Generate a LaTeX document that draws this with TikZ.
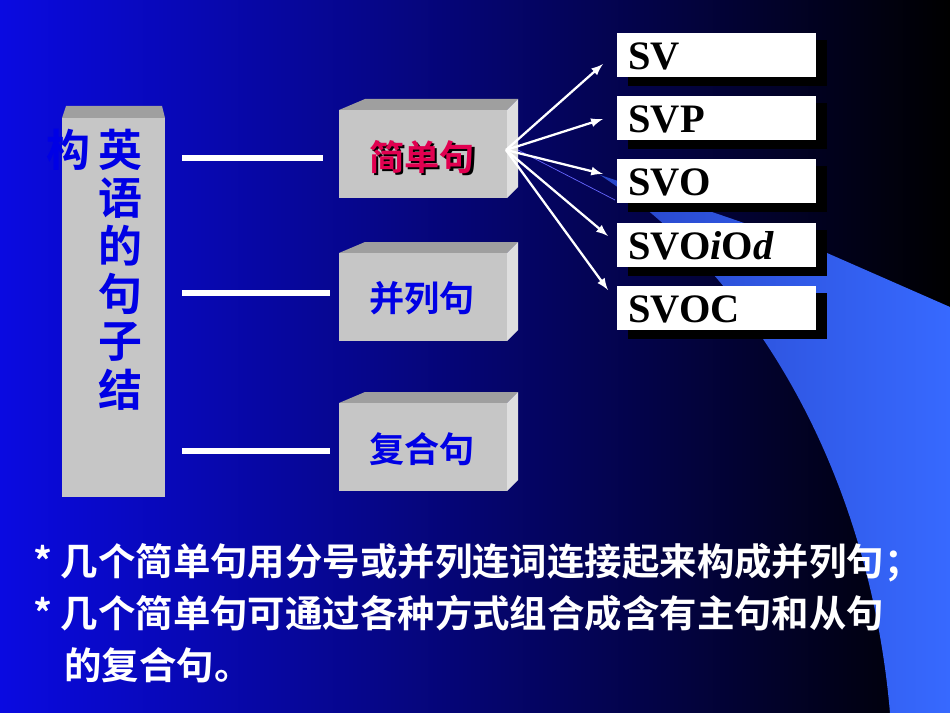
\documentclass[tikz,border=0pt]{standalone}
\usepackage{fontspec}
\setmainfont{Liberation Serif}
\newfontfamily\cjk{Noto Sans CJK SC}[BoldFont={* Bold}]
\begin{document}
\begin{tikzpicture}[x=0.02cm,y=-0.02cm,
  wline/.style={white,line width=3pt},
  arr/.style={white,line width=1.3pt,-latex},
  front/.style={fill=gray!45!white,draw=none},
  topf/.style={fill=gray!75!white},
  sidef/.style={fill=gray!25!white},
  svbox/.style={fill=white,minimum width=3.98cm,minimum height=0.9cm,inner sep=0pt},
  svtxt/.style={font=\fontsize{23}{23}\selectfont\bfseries,anchor=west,inner sep=0pt},
  ctxt/.style={font=\cjk\bfseries\fontsize{20}{20}\selectfont,inner sep=0pt},
  vtxt/.style={font=\cjk\bfseries\fontsize{25}{25}\selectfont,text=blue!90!black,inner sep=0pt},
  btxt/.style={font=\cjk\bfseries\fontsize{21.3}{24}\selectfont,white,anchor=west,inner sep=0pt}]
\useasboundingbox (0,0) rectangle (950,713);
\shade[left color={rgb,255:red,10;green,10;blue,225},right color=black] (0,0) rectangle (950,713);
% swoosh
\shade[left color={rgb,255:red,40;green,70;blue,200},right color={rgb,255:red,55;green,105;blue,255}]
  (600,175) .. controls (760,280) and (870,480) .. (890,713) -- (950,713) -- (950,307) -- (827,253) .. controls (740,220) and (660,195) .. (600,175) -- cycle;
\draw[blue!60!white,line width=0.4pt] (518,150) -- (615,200);
% left tall box
\fill[gray!75!white] (62,118) -- (66,106) -- (162,106) -- (165,118) -- cycle;
\fill[gray!45!white] (62,118) rectangle (165,497);
\foreach \c [count=\i] in {英,语,的,句,子,结}
  \node[vtxt] (c\i) at (120,102+48*\i) {\c};
\node[vtxt] (gou) at (68,150) {构};
% 3D boxes
\foreach \t/\n in {110/b1,253/b2,403/b3}{
  \fill[topf] (339,\t) -- (365,\t-11) -- (518,\t-11) -- (507,\t) -- cycle;
  \fill[sidef] (507,\t) -- (518,\t-11) -- (518,\t+77) -- (507,\t+88) -- cycle;
  \fill[front] (339,\t) rectangle (507,\t+88);
  \coordinate (\n) at (423,\t+44);
}
\node[ctxt,text=black] at (424.5,159.5) {简单句};
\node[ctxt,text={rgb,255:red,225;green,0;blue,80}] (s1) at (422,157) {简单句};
\node[ctxt,text=blue!90!black] (s2) at (422,298) {并列句};
\node[ctxt,text=blue!90!black] (s3) at (422,449) {复合句};
\coordinate (o) at (506,150);
% lines
\coordinate (l1) at (182,158); \coordinate (r1) at (323,158);
\coordinate (l2) at (182,293); \coordinate (r2) at (330,293);
\coordinate (l3) at (182,451); \coordinate (r3) at (330,451);
\draw[wline] (l1) -- (r1); \draw[wline] (l2) -- (r2); \draw[wline] (l3) -- (r3);
% SV boxes
\foreach \y/\n/\txt in {55/v1/SV,118/v2/SVP,181/v3/SVO,245/v4/{SVO\textit{i}O\textit{d}},308/v5/SVOC}{
  \fill[black] (628,\y-15) rectangle (827,\y+31);
  \node[svbox] (\n) at (716.5,\y) {};
  \node[svtxt] at (628,\y+1) {\txt};
}
\coordinate (a1) at (603,64); \coordinate (a2) at (603,119);
\coordinate (a3) at (603,174); \coordinate (a4) at (608,236); \coordinate (a5) at (608,290);
\foreach \a in {a1,a2,a3,a4,a5} \draw[arr] (o) -- (\a);
% bottom text
\node[btxt] (t1) at (33,563) {* 几个简单句用分号或并列连词连接起来构成并列句；};
\node[btxt] (t2) at (33,613) {* 几个简单句可通过各种方式组合成含有主句和从句};
\node[btxt] (t3) at (64,665) {的复合句。};
\end{tikzpicture}
\end{document}
